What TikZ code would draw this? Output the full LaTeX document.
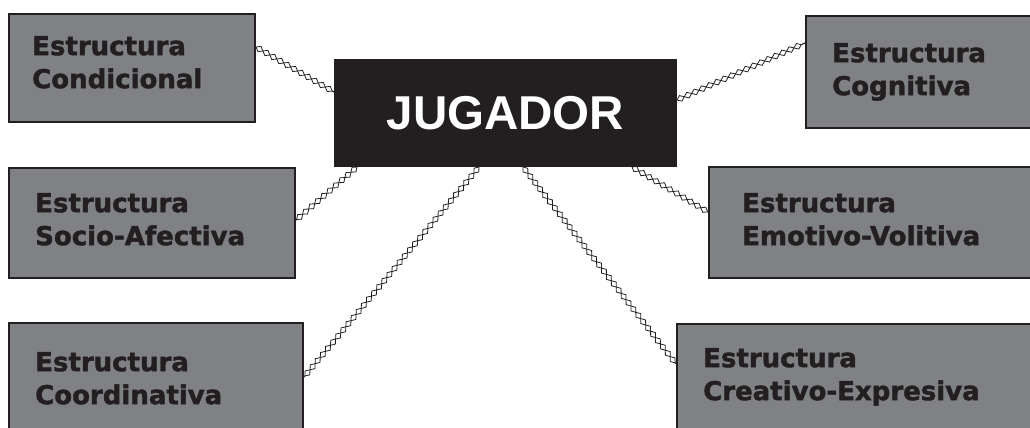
\documentclass[tikz,border=0pt]{standalone}
\usepackage{fontspec}
\usepackage{tikz}
\usetikzlibrary{decorations.pathmorphing}
\newfontfamily\cajafont{DejaVu Sans}[BoldFeatures={FakeBold=1.6}]
\newfontfamily\jugfont{Liberation Sans}
\definecolor{gris}{RGB}{128,129,133}
\definecolor{negro}{RGB}{35,31,32}
\tikzset{
	caja/.style={rectangle, draw=negro, fill=gris, line width=2pt, anchor=north west, inner sep=0pt},
	texto/.style={anchor=north west, align=left, inner sep=0pt, text=negro, font=\cajafont\bfseries\fontsize{26}{33}\selectfont},
	cadena/.style={draw=negro, line width=0.8pt, decorate, decoration={zigzag, segment length=16pt, amplitude=3pt}}
}
\begin{document}
\begin{tikzpicture}[x=1pt,y=-1pt]
	\useasboundingbox (0,0) rectangle (1030,428);
	\clip (0,0) rectangle (1030,428);

	\node[caja, minimum width=246pt, minimum height=108pt] (cond) at (8,13) {};
	\node[caja, minimum width=260pt, minimum height=112pt] (cogn) at (805,15) {};
	\node[caja, minimum width=286pt, minimum height=110pt] (socio) at (8,167) {};
	\node[caja, minimum width=360pt, minimum height=111pt] (emot) at (708,166) {};
	\node[caja, minimum width=294pt, minimum height=150pt] (coord) at (8,322) {};
	\node[caja, minimum width=400pt, minimum height=150pt] (creat) at (676,323) {};
	\node[caja, fill=negro, minimum width=341pt, minimum height=106pt, text=white,
		font=\jugfont\bfseries\fontsize{47.5}{50}\selectfont] (jug) at (334,59) {JUGADOR};

	\node[texto] (condT) at ([xshift=24pt,yshift=-23pt]cond.north west) {Estructura\\Condicional};
	\node[texto] (cognT) at ([xshift=27pt,yshift=-28pt]cogn.north west) {Estructura\\Cognitiva};
	\node[texto] (socioT) at ([xshift=27pt,yshift=-26pt]socio.north west) {Estructura\\Socio-Afectiva};
	\node[texto] (emotT) at ([xshift=34pt,yshift=-27pt]emot.north west) {Estructura\\Emotivo-Volitiva};
	\node[texto] (coordT) at ([xshift=27pt,yshift=-30pt]coord.north west) {Estructura\\Coordinativa};
	\node[texto] (creatT) at ([xshift=27pt,yshift=-25pt]creat.north west) {Estructura\\Creativo-Expresiva};

	% cadenas de rombos
	\foreach \a/\b in {{([yshift=-34pt]cond.north east)}/{([yshift=-33pt]jug.north west)},
		{([yshift=-41pt]jug.north east)}/{([yshift=-28pt]cogn.north west)},
		{([xshift=23pt]jug.south west)}/{([yshift=-53pt]socio.north east)},
		{([xshift=145pt]jug.south west)}/{([yshift=-55pt]coord.north east)},
		{([xshift=189pt]jug.south west)}/{([yshift=-41pt]creat.north west)},
		{([xshift=-45pt]jug.south east)}/{([yshift=-46pt]emot.north west)}}
	{
		\draw[cadena] \a -- \b;
		\draw[cadena, decoration={mirror}] \a -- \b;
	}
\end{tikzpicture}
\end{document}
